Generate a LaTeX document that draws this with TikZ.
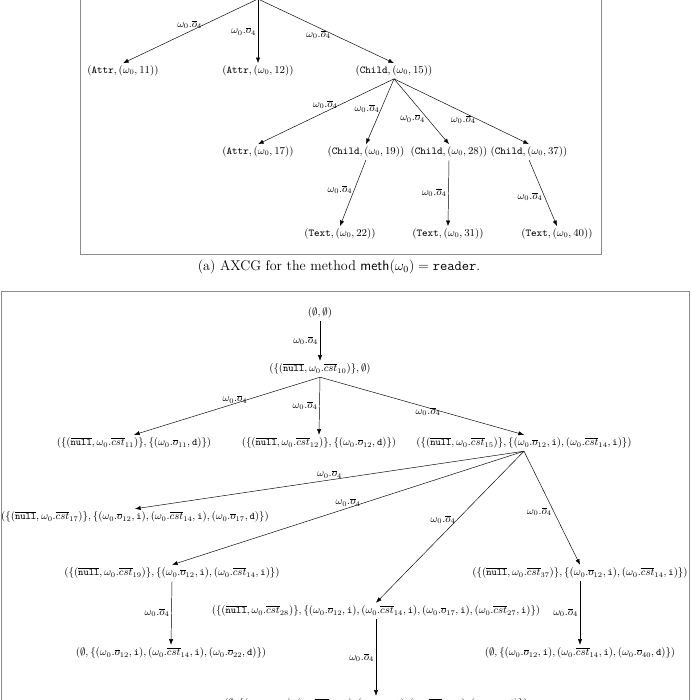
\documentclass[tikz,border=0pt]{standalone}
\usepackage{amsmath,amssymb}
\usepackage{tikz}
\usetikzlibrary{arrows.meta}

\newcommand{\edgelab}{$\omega_0.\overline{o}_4$}
\newcommand{\nullv}{\overline{\texttt{null}}}
\newcommand{\cst}[1]{\omega_0.\overline{cst}_{#1}}
\newcommand{\obar}[1]{\omega_0.\overline{o}_{#1}}

\begin{document}
\begin{tikzpicture}[
    x=0.03cm, y=-0.03cm,
    state/.style={inner sep=2pt, font=\small},
    lstate/.style={inner sep=2pt, font=\fontsize{8.6}{10}\selectfont},
    lbl/.style={inner sep=1.5pt, font=\small},
    frame/.style={draw=gray!90, line width=0.8pt},
    >=Latex,
    font=\small,
]
    \useasboundingbox (0,0) rectangle (690,700);
    \draw[frame] (80,-30) rectangle (601,254);
    \draw[frame] (1,291) rectangle (689,760);

    % (a) upper tree
    \coordinate (top) at (258,-1);
    \node[state] (a11) at (123,71)  {$(\texttt{Attr},(\omega_0,11))$};
    \node[state] (a12) at (258,71)  {$(\texttt{Attr},(\omega_0,12))$};
    \node[state] (c15) at (394,71)  {$(\texttt{Child},(\omega_0,15))$};
    \node[state] (a17) at (258,152) {$(\texttt{Attr},(\omega_0,17))$};
    \node[state] (c19) at (366,152) {$(\texttt{Child},(\omega_0,19))$};
    \node[state] (c28) at (449,152) {$(\texttt{Child},(\omega_0,28))$};
    \node[state] (c37) at (529,152) {$(\texttt{Child},(\omega_0,37))$};
    \node[state] (t22) at (340,234) {$(\texttt{Text},(\omega_0,22))$};
    \node[state] (t31) at (448,234) {$(\texttt{Text},(\omega_0,31))$};
    \node[state] (t40) at (557,234) {$(\texttt{Text},(\omega_0,40))$};
    \node[font=\large] (capa) at (339,267) {(a) AXCG for the method $\mathsf{meth}(\omega_0)=\mathtt{reader}$.};

    \draw[->] (top) -- (a11.north) node[lbl, pos=0.4, left] {\edgelab};
    \draw[->] (top) -- (a12.north) node[lbl, pos=0.5, left] {\edgelab};
    \draw[->] (top) -- (c15.north) node[lbl, pos=0.55, left] {\edgelab};
    \draw[->] (c15.south) -- (a17.north) node[lbl, pos=0.4, left] {\edgelab};
    \draw[->] (c15.south) -- (c19.north) node[lbl, pos=0.45, left] {\edgelab};
    \draw[->] (c15.south) -- (c28.north) node[lbl, pos=0.6, left] {\edgelab};
    \draw[->] (c15.south) -- (c37.north) node[lbl, pos=0.62, left] {\edgelab};
    \draw[->] (c19.south) -- (t22.north) node[lbl, pos=0.45, left] {\edgelab};
    \draw[->] (c28.south) -- (t31.north) node[lbl, pos=0.5, left] {\edgelab};
    \draw[->] (c37.south) -- (t40.north) node[lbl, pos=0.55, left] {\edgelab};

    % (b) lower tree
    \node[lstate] (s0)  at (320,313) {$(\emptyset,\emptyset)$};
    \node[lstate] (s10) at (320,369) {$(\{(\nullv,\cst{10})\},\emptyset)$};
    \node[lstate] (s11) at (134,443) {$(\{(\nullv,\cst{11})\},\{(\obar{11},\texttt{d})\})$};
    \node[lstate] (s12) at (319,443) {$(\{(\nullv,\cst{12})\},\{(\obar{12},\texttt{d})\})$};
    \node[lstate] (s15) at (524,443) {$(\{(\nullv,\cst{15})\},\{(\obar{12},\texttt{i}),(\cst{14},\texttt{i})\})$};
    \node[lstate] (s17) at (135,517) {$(\{(\nullv,\cst{17})\},\{(\obar{12},\texttt{i}),(\cst{14},\texttt{i}),(\obar{17},\texttt{d})\})$};
    \node[lstate] (s19) at (172,573) {$(\{(\nullv,\cst{19})\},\{(\obar{12},\texttt{i}),(\cst{14},\texttt{i})\})$};
    \node[lstate] (s37) at (580,573) {$(\{(\nullv,\cst{37})\},\{(\obar{12},\texttt{i}),(\cst{14},\texttt{i})\})$};
    \node[lstate] (s28) at (376,611) {$(\{(\nullv,\cst{28})\},\{(\obar{12},\texttt{i}),(\cst{14},\texttt{i}),(\obar{17},\texttt{i}),(\cst{27},\texttt{i})\})$};
    \node[lstate] (s22) at (171,653) {$(\emptyset,\{(\obar{12},\texttt{i}),(\cst{14},\texttt{i}),(\obar{22},\texttt{d})\})$};
    \node[lstate] (s40) at (580,653) {$(\emptyset,\{(\obar{12},\texttt{i}),(\cst{14},\texttt{i}),(\obar{40},\texttt{d})\})$};
    \node[lstate] (s31) at (376,704) {$(\emptyset,\{(\obar{12},\texttt{i}),(\cst{14},\texttt{i}),(\obar{17},\texttt{i}),(\cst{27},\texttt{i}),(\obar{31},\texttt{d})\})$};

    \draw[->] (s0.south)  -- (s10.north) node[lbl, pos=0.5, left] {\edgelab};
    \draw[->] (s10.south) -- (s11.north) node[lbl, pos=0.38, left] {\edgelab};
    \draw[->] (s10.south) -- (s12.north) node[lbl, pos=0.5, left] {\edgelab};
    \draw[->] (s10.south) -- (s15.north) node[lbl, pos=0.6, left] {\edgelab};
    \draw[->] (s15.south) -- (s17.north) node[lbl, pos=0.5, above] {\edgelab};
    \draw[->] (s15.south) -- (s19.north) node[lbl, pos=0.5, above] {\edgelab};
    \draw[->] (s15.south) -- (s28.north) node[lbl, pos=0.45, left] {\edgelab};
    \draw[->] (s15.south) -- (s37.north) node[lbl, pos=0.53, left] {\edgelab};
    \draw[->] (s19.south) -- (s22.north) node[lbl, pos=0.5, left] {\edgelab};
    \draw[->] (s37.south) -- (s40.north) node[lbl, pos=0.5, left] {\edgelab};
    \draw[->] (s28.south) -- (s31.north) node[lbl, pos=0.5, left] {\edgelab};
\end{tikzpicture}
\end{document}
